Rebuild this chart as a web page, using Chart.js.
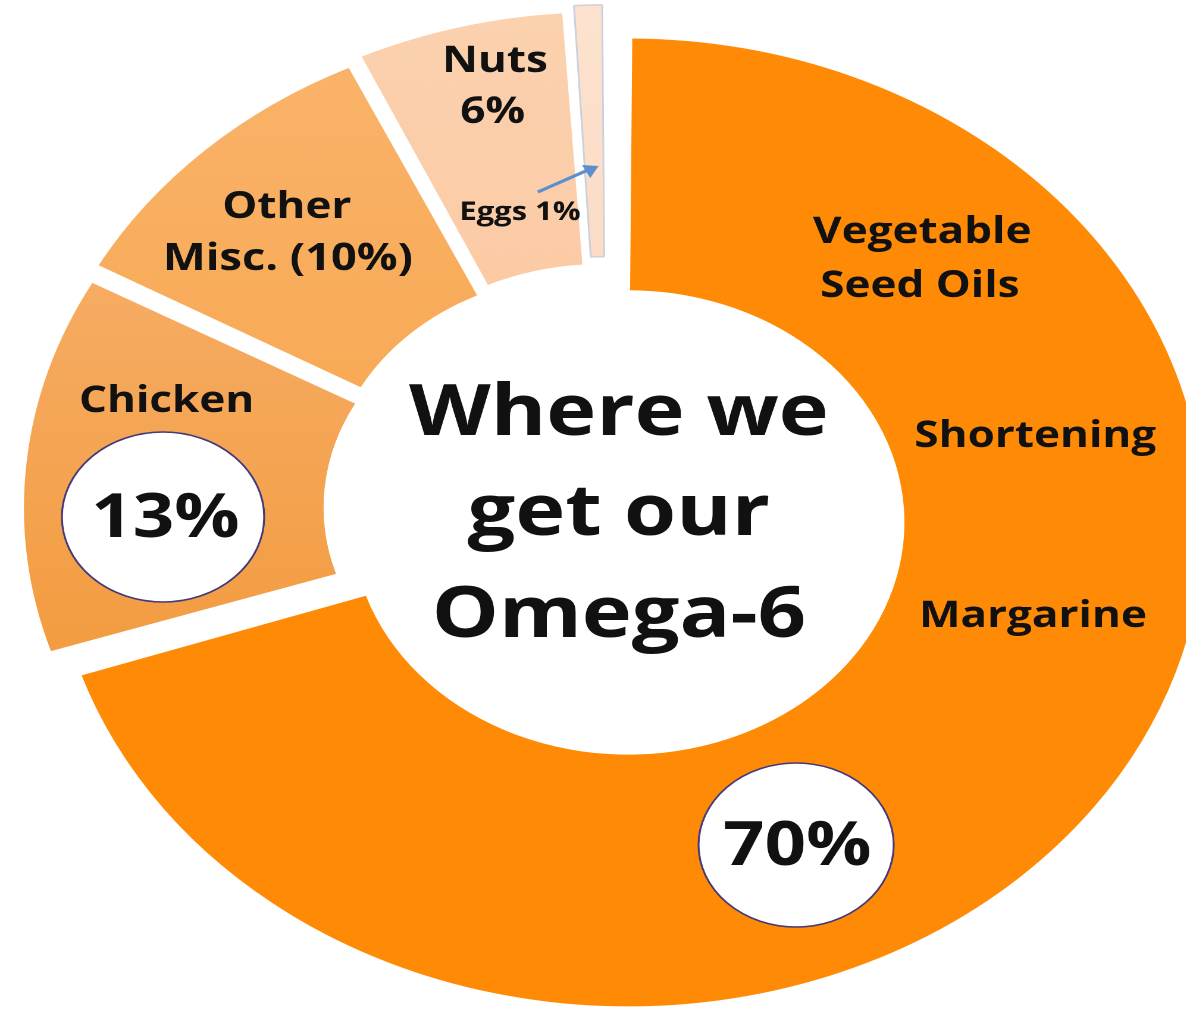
<!DOCTYPE html>
<html>
<head>
<meta charset="utf-8">
<title>Where we get our Omega-6</title>
<script src="https://cdn.jsdelivr.net/npm/chart.js@4"></script>
<style>
  html, body { margin: 0; padding: 0; background: #fff; overflow: hidden; }
  body { width: 1186px; height: 1009px; position: relative; }
  /* the doughnut is drawn round, then stretched sideways like the slide it came from */
  #wrap { position: absolute; left: 0; top: 0; transform: scaleX(1.19); transform-origin: 0 0; }
</style>
</head>
<body>
<div id="wrap"><canvas id="omegaChart" width="1020" height="1019"></canvas></div>
<script>
const sources = ['Vegetable Seed Oils, Shortening, Margarine', 'Chicken', 'Other Misc.', 'Nuts', 'Eggs'];
const shares = [70, 13, 10, 6, 1];
const sliceTop = ['#FF8A06', '#F8B87C', '#FAB56E', '#FCD2B0', '#FDE3D0'];
const sliceBottom = ['#FF8A06', '#F39A3C', '#F7A244', '#FAC298', '#FBD2B6'];
const centerLines = ['Where we', 'get our', 'Omega-6'];

const ctx = document.getElementById('omegaChart').getContext('2d');

function sliceFill(context) {
	const i = context.dataIndex;
	const area = context.chart.chartArea;
	if (!area) return sliceTop[i];
	const g = context.chart.ctx.createLinearGradient(0, area.top, 0, area.bottom * 0.7);
	g.addColorStop(0, sliceTop[i]);
	g.addColorStop(1, sliceBottom[i]);
	return g;
}

function bubble(c, x, y, r) {
	c.beginPath();
	c.arc(x, y, r, 0, Math.PI * 2);
	c.fillStyle = '#fff';
	c.fill();
	c.lineWidth = 1.6;
	c.strokeStyle = '#44397a';
	c.stroke();
}

function text(c, str, x, y, size) {
	c.font = `700 ${size}px "Open Sans", sans-serif`;
	c.fillStyle = '#111';
	c.textAlign = 'center';
	c.textBaseline = 'alphabetic';
	c.fillText(str, x, y);
}

// labels, percentage bubbles and the small arrow pointing at the eggs slice
const labelPlugin = {
	id: 'omegaLabels',
	afterDatasetsDraw(chart) {
		const c = chart.ctx;
		c.save();

		text(c, centerLines[0], 520, 435, 71);
		text(c, centerLines[1], 520, 535, 71);
		text(c, centerLines[2], 520, 637, 71);

		text(c, 'Vegetable', 775, 243, 37);
		text(c, 'Seed Oils', 773, 297, 37);
		text(c, 'Shortening', 870, 447, 37);
		text(c, 'Margarine', 868, 627, 37);

		bubble(c, 669, 845, 82);
		text(c, shares[0] + '%', 670, 865, 61);

		text(c, sources[1], 140, 412, 37);
		bubble(c, 137, 517, 85);
		text(c, shares[1] + '%', 139, 537, 61);

		text(c, 'Other', 241, 218, 37);
		text(c, 'Misc. (' + shares[2] + '%)', 242, 270, 38);

		text(c, sources[3], 416, 72, 37);
		text(c, shares[3] + '%', 414, 123, 37);

		text(c, sources[4] + ' ' + shares[4] + '%', 437, 220, 26);

		// arrow
		c.strokeStyle = '#5B8FD0';
		c.fillStyle = '#5B8FD0';
		c.lineWidth = 3;
		c.beginPath();
		c.moveTo(452, 192);
		c.lineTo(494, 170);
		c.stroke();
		c.beginPath();
		c.moveTo(503, 166);
		c.lineTo(489, 165);
		c.lineTo(496, 178);
		c.closePath();
		c.fill();

		c.restore();
	},
};

const omegaChart = new Chart(ctx, {
	type: 'doughnut',
	data: {
		labels: sources,
		datasets: [
			{
				data: shares,
				backgroundColor: sliceFill,
				borderWidth: [0, 0, 0, 0, 1.5],
				borderColor: '#CBD1DC',
				offset: 88,
				hoverOffset: 88,
			},
		],
	},
	options: {
		responsive: false,
		devicePixelRatio: 2,
		animation: false,
		radius: 462,
		cutout: '45.5%',
		layout: { padding: 0 },
		events: [],
		plugins: {
			legend: { display: false },
			tooltip: { enabled: false },
		},
	},
	plugins: [labelPlugin],
});
</script>
</body>
</html>
